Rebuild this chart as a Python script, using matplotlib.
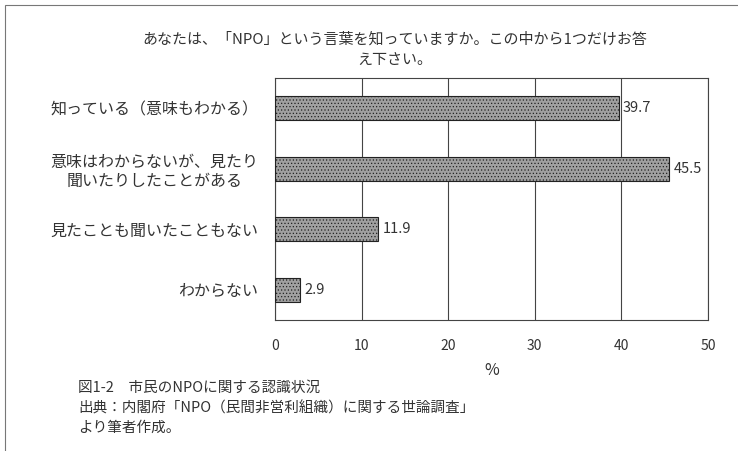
import matplotlib.pyplot as plt
from matplotlib.patches import Rectangle

plt.rcParams['font.family'] = ['Noto Sans CJK JP', 'DejaVu Sans']
plt.rcParams['hatch.color'] = '#555555'
plt.rcParams['hatch.linewidth'] = 0.5

# データ
categories = ['知っている（意味もわかる）',
              '意味はわからないが、見たり\n聞いたりしたことがある',
              '見たことも聞いたこともない',
              'わからない']
values = [39.7, 45.5, 11.9, 2.9]
value_labels = ['39.7', '45.5', '11.9', '2.9']
x_ticks = [0, 10, 20, 30, 40, 50]

title = 'あなたは、「NPO」という言葉を知っていますか。この中から1つだけお答\nえ下さい。'
caption = ('図1-2　市民のNPOに関する認識状況\n'
           '出典：内閣府「NPO（民間非営利組織）に関する世論調査」\n'
           'より筆者作成。')

fig = plt.figure(figsize=(7.38, 4.51), dpi=100)
ax = fig.add_axes([0.3726, 0.2905, 0.5867, 0.5365])

pos = list(range(len(categories)))
ax.barh(pos, values, height=0.4, color='#a0a0a0', edgecolor='#222222',
        linewidth=0.8, hatch='.....', zorder=3)
for p, v, lab in zip(pos, values, value_labels):
    ax.text(v + 0.5, p, lab, va='center', ha='left', fontsize=10.5,
            color='#333333', zorder=4)

ax.set_xlim(0, 50)
ax.set_ylim(len(categories) - 0.5, -0.5)
ax.set_xticks(x_ticks)
ax.set_xticklabels([str(t) for t in x_ticks], fontsize=10, color='#333333')
ax.set_yticks(pos)
ax.set_yticklabels(categories, fontsize=11.5, color='#333333',
                   linespacing=1.2, multialignment='center')
ax.tick_params(axis='y', length=0, pad=12)
ax.tick_params(axis='x', length=0, pad=14)
ax.grid(axis='x', color='#444444', linewidth=0.8, zorder=1)
for s in ax.spines.values():
    s.set_color('#444444')
    s.set_linewidth(0.8)
ax.set_xlabel('%', fontsize=11.5, color='#333333', labelpad=6)

fig.text(0.535, 0.852, title, ha='center', va='bottom', fontsize=10.8,
         color='#333333', linespacing=1.55, multialignment='center')
fig.text(0.106, 0.035, caption, ha='left', va='bottom', fontsize=10.5,
         color='#333333', linespacing=1.55)

# 外枠
fig.add_artist(Rectangle((0.007, -0.02), 1.1, 1.009, transform=fig.transFigure,
                         fill=False, edgecolor='#777777', linewidth=0.8))

fig.savefig('out.png', dpi=100)
